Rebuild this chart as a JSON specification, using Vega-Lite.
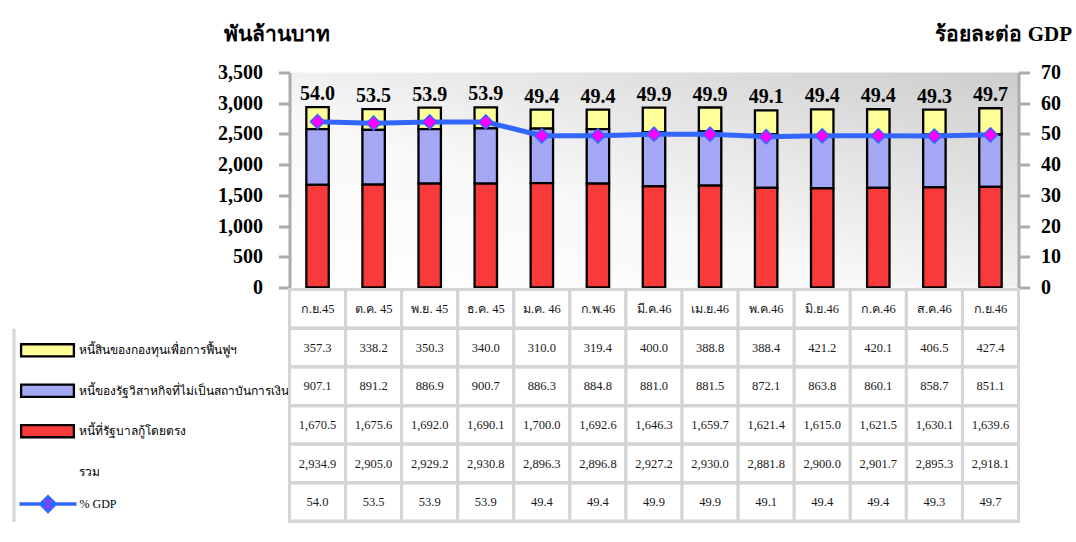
{
  "$schema": "https://vega.github.io/schema/vega-lite/v6.json",
  "background": "white",
  "padding": {"left": 13.5, "top": 23.5, "right": 0, "bottom": 0},
  "bounds": "flush",
  "spacing": 2,
  "config": {"view": {"stroke": null}, "font": "Liberation Serif"},
  "datasets": {
    "debt": [
      {"month": "ก.ย.45", "series": "หนี้สินของกองทุนเพื่อการฟื้นฟูฯ", "value": 357.3},
      {"month": "ก.ย.45", "series": "หนี้ของรัฐวิสาหกิจที่ไม่เป็นสถาบันการเงิน", "value": 907.1},
      {"month": "ก.ย.45", "series": "หนี้ที่รัฐบาลกู้โดยตรง", "value": 1670.5},
      {"month": "ต.ค. 45", "series": "หนี้สินของกองทุนเพื่อการฟื้นฟูฯ", "value": 338.2},
      {"month": "ต.ค. 45", "series": "หนี้ของรัฐวิสาหกิจที่ไม่เป็นสถาบันการเงิน", "value": 891.2},
      {"month": "ต.ค. 45", "series": "หนี้ที่รัฐบาลกู้โดยตรง", "value": 1675.6},
      {"month": "พ.ย. 45", "series": "หนี้สินของกองทุนเพื่อการฟื้นฟูฯ", "value": 350.3},
      {"month": "พ.ย. 45", "series": "หนี้ของรัฐวิสาหกิจที่ไม่เป็นสถาบันการเงิน", "value": 886.9},
      {"month": "พ.ย. 45", "series": "หนี้ที่รัฐบาลกู้โดยตรง", "value": 1692.0},
      {"month": "ธ.ค. 45", "series": "หนี้สินของกองทุนเพื่อการฟื้นฟูฯ", "value": 340.0},
      {"month": "ธ.ค. 45", "series": "หนี้ของรัฐวิสาหกิจที่ไม่เป็นสถาบันการเงิน", "value": 900.7},
      {"month": "ธ.ค. 45", "series": "หนี้ที่รัฐบาลกู้โดยตรง", "value": 1690.1},
      {"month": "ม.ค. 46", "series": "หนี้สินของกองทุนเพื่อการฟื้นฟูฯ", "value": 310.0},
      {"month": "ม.ค. 46", "series": "หนี้ของรัฐวิสาหกิจที่ไม่เป็นสถาบันการเงิน", "value": 886.3},
      {"month": "ม.ค. 46", "series": "หนี้ที่รัฐบาลกู้โดยตรง", "value": 1700.0},
      {"month": "ก.พ.46", "series": "หนี้สินของกองทุนเพื่อการฟื้นฟูฯ", "value": 319.4},
      {"month": "ก.พ.46", "series": "หนี้ของรัฐวิสาหกิจที่ไม่เป็นสถาบันการเงิน", "value": 884.8},
      {"month": "ก.พ.46", "series": "หนี้ที่รัฐบาลกู้โดยตรง", "value": 1692.6},
      {"month": "มี.ค.46", "series": "หนี้สินของกองทุนเพื่อการฟื้นฟูฯ", "value": 400.0},
      {"month": "มี.ค.46", "series": "หนี้ของรัฐวิสาหกิจที่ไม่เป็นสถาบันการเงิน", "value": 881.0},
      {"month": "มี.ค.46", "series": "หนี้ที่รัฐบาลกู้โดยตรง", "value": 1646.3},
      {"month": "เม.ย.46", "series": "หนี้สินของกองทุนเพื่อการฟื้นฟูฯ", "value": 388.8},
      {"month": "เม.ย.46", "series": "หนี้ของรัฐวิสาหกิจที่ไม่เป็นสถาบันการเงิน", "value": 881.5},
      {"month": "เม.ย.46", "series": "หนี้ที่รัฐบาลกู้โดยตรง", "value": 1659.7},
      {"month": "พ.ค.46", "series": "หนี้สินของกองทุนเพื่อการฟื้นฟูฯ", "value": 388.4},
      {"month": "พ.ค.46", "series": "หนี้ของรัฐวิสาหกิจที่ไม่เป็นสถาบันการเงิน", "value": 872.1},
      {"month": "พ.ค.46", "series": "หนี้ที่รัฐบาลกู้โดยตรง", "value": 1621.4},
      {"month": "มิ.ย.46", "series": "หนี้สินของกองทุนเพื่อการฟื้นฟูฯ", "value": 421.2},
      {"month": "มิ.ย.46", "series": "หนี้ของรัฐวิสาหกิจที่ไม่เป็นสถาบันการเงิน", "value": 863.8},
      {"month": "มิ.ย.46", "series": "หนี้ที่รัฐบาลกู้โดยตรง", "value": 1615.0},
      {"month": "ก.ค.46", "series": "หนี้สินของกองทุนเพื่อการฟื้นฟูฯ", "value": 420.1},
      {"month": "ก.ค.46", "series": "หนี้ของรัฐวิสาหกิจที่ไม่เป็นสถาบันการเงิน", "value": 860.1},
      {"month": "ก.ค.46", "series": "หนี้ที่รัฐบาลกู้โดยตรง", "value": 1621.5},
      {"month": "ส.ค.46", "series": "หนี้สินของกองทุนเพื่อการฟื้นฟูฯ", "value": 406.5},
      {"month": "ส.ค.46", "series": "หนี้ของรัฐวิสาหกิจที่ไม่เป็นสถาบันการเงิน", "value": 858.7},
      {"month": "ส.ค.46", "series": "หนี้ที่รัฐบาลกู้โดยตรง", "value": 1630.1},
      {"month": "ก.ย.46", "series": "หนี้สินของกองทุนเพื่อการฟื้นฟูฯ", "value": 427.4},
      {"month": "ก.ย.46", "series": "หนี้ของรัฐวิสาหกิจที่ไม่เป็นสถาบันการเงิน", "value": 851.1},
      {"month": "ก.ย.46", "series": "หนี้ที่รัฐบาลกู้โดยตรง", "value": 1639.6}
    ],
    "summary": [
      {"month": "ก.ย.45", "total": 2934.9, "gdp": 54.0},
      {"month": "ต.ค. 45", "total": 2905.0, "gdp": 53.5},
      {"month": "พ.ย. 45", "total": 2929.2, "gdp": 53.9},
      {"month": "ธ.ค. 45", "total": 2930.8, "gdp": 53.9},
      {"month": "ม.ค. 46", "total": 2896.3, "gdp": 49.4},
      {"month": "ก.พ.46", "total": 2896.8, "gdp": 49.4},
      {"month": "มี.ค.46", "total": 2927.2, "gdp": 49.9},
      {"month": "เม.ย.46", "total": 2930.0, "gdp": 49.9},
      {"month": "พ.ค.46", "total": 2881.8, "gdp": 49.1},
      {"month": "มิ.ย.46", "total": 2900.0, "gdp": 49.4},
      {"month": "ก.ค.46", "total": 2901.7, "gdp": 49.4},
      {"month": "ส.ค.46", "total": 2895.3, "gdp": 49.3},
      {"month": "ก.ย.46", "total": 2918.1, "gdp": 49.7}
    ]
  },
  "vconcat": [
    {
      "width": 1005,
      "height": 215,
      "layer": [
        {
          "layer": [
            {
              "data": {"values": [{"area": "plot"}]},
              "mark": {"type": "rect", "fill": {"gradient": "linear", "x1": 0, "y1": 1, "x2": 1, "y2": 0, "stops": [{"offset": 0, "color": "#ffffff"}, {"offset": 0.4, "color": "#f8f8f8"}, {"offset": 1, "color": "#cdcdcd"}]}},
              "encoding": {
                "x": {"datum": "ก.ย.45", "type": "nominal", "bandPosition": 0, "scale": {"type": "band", "domain": ["ก.ย.45","ต.ค. 45","พ.ย. 45","ธ.ค. 45","ม.ค. 46","ก.พ.46","มี.ค.46","เม.ย.46","พ.ค.46","มิ.ย.46","ก.ค.46","ส.ค.46","ก.ย.46"], "paddingInner": 0, "paddingOuter": 0, "range": [276, 1005]}, "axis": null},
                "x2": {"value": "width"},
                "y": {"datum": 3500, "type": "quantitative"},
                "y2": {"datum": 0}
              }
            },
            {
              "data": {"name": "debt"},
              "mark": {"type": "bar", "width": {"band": 0.4}, "strokeWidth": 2.3},
              "encoding": {
                "x": {"field": "month", "type": "nominal", "axis": null},
                "y": {
                  "field": "value", "type": "quantitative", "stack": "zero",
                  "scale": {"domain": [0, 3500], "nice": false},
                  "axis": {
                    "orient": "left", "offset": -276, "zindex": 1, "values": [0, 500, 1000, 1500, 2000, 2500, 3000, 3500], "tickCount": 8, "format": ",.0f", "labelOverlap": false,
                    "title": "พันล้านบาท", "titleAngle": 0, "titleAlign": "center", "titleBaseline": "middle", "titleX": -13.5, "titleY": -38,
                    "titleFontSize": 21, "titleFontWeight": "bold", "titleColor": "black",
                    "labelFontSize": 20, "labelFontWeight": "bold", "labelColor": "black", "labelPadding": 16,
                    "tickSize": 11, "tickWidth": 3, "tickColor": "#ababab", "domainColor": "#ababab", "domainWidth": 3, "grid": false
                  }
                },
                "order": {"field": "value", "sort": "descending"},
                "color": {
                  "field": "series", "type": "nominal",
                  "scale": {"domain": ["หนี้สินของกองทุนเพื่อการฟื้นฟูฯ", "หนี้ของรัฐวิสาหกิจที่ไม่เป็นสถาบันการเงิน", "หนี้ที่รัฐบาลกู้โดยตรง", "รวม"], "range": ["#ffff99", "#a3a7f4", "#f83a3a", "transparent"]},
                  "legend": {
                    "orient": "none", "legendX": 5, "legendY": 248.8, "direction": "vertical", "title": null,
                    "symbolSize": 3025, "symbolType": "M-0.96,-0.22H0.96V0.22H-0.96Z", "symbolOpacity": 1, "symbolStrokeWidth": 2.3,
                    "rowPadding": 0.45, "labelFontSize": 12, "labelColor": "black", "labelLimit": 0, "labelOffset": 2
                  }
                },
                "stroke": {
                  "field": "series", "type": "nominal",
                  "scale": {"domain": ["หนี้สินของกองทุนเพื่อการฟื้นฟูฯ", "หนี้ของรัฐวิสาหกิจที่ไม่เป็นสถาบันการเงิน", "หนี้ที่รัฐบาลกู้โดยตรง", "รวม"], "range": ["black", "black", "black", "transparent"]},
                  "legend": {
                    "orient": "none", "legendX": 5, "legendY": 248.8, "direction": "vertical", "title": null,
                    "symbolSize": 3025, "symbolType": "M-0.96,-0.22H0.96V0.22H-0.96Z", "symbolOpacity": 1, "symbolStrokeWidth": 2.3,
                    "rowPadding": 0.45, "labelFontSize": 12, "labelColor": "black", "labelLimit": 0, "labelOffset": 2
                  }
                }
              }
            },
            {
              "data": {"name": "summary"},
              "mark": {"type": "text", "fontSize": 20, "fontWeight": "bold", "baseline": "alphabetic", "dy": -7, "color": "black"},
              "encoding": {
                "x": {"field": "month", "type": "nominal", "axis": null},
                "y": {"field": "total", "type": "quantitative"},
                "text": {"field": "gdp", "type": "quantitative", "format": ".1f"}
              }
            }
          ]
        },
        {
          "layer": [
            {
              "data": {"name": "summary"},
              "mark": {"type": "line", "strokeWidth": 5},
              "encoding": {
                "x": {"field": "month", "type": "nominal", "axis": null},
                "y": {
                  "field": "gdp", "type": "quantitative",
                  "scale": {"domain": [0, 70], "nice": false},
                  "axis": {
                    "orient": "right", "zindex": 1, "values": [0, 10, 20, 30, 40, 50, 60, 70], "tickCount": 8, "format": ".0f", "labelOverlap": false,
                    "title": "ร้อยละต่อ GDP", "titleAngle": 0, "titleAlign": "right", "titleBaseline": "middle", "titleX": 53, "titleY": -38,
                    "titleFontSize": 21, "titleFontWeight": "bold", "titleColor": "black",
                    "labelFontSize": 20, "labelFontWeight": "bold", "labelColor": "black", "labelPadding": 11,
                    "tickSize": 11, "tickWidth": 3, "tickColor": "#ababab", "domainColor": "#ababab", "domainWidth": 3, "grid": false
                  }
                },
                "stroke": {
                  "datum": "% GDP", "type": "nominal",
                  "scale": {"domain": ["% GDP"], "range": ["#3366ff"]},
                  "legend": {
                    "orient": "none", "legendX": 4, "legendY": 401.1, "direction": "vertical", "title": null,
                    "symbolSize": 3249, "symbolType": "M-1,0H1M0,-0.25L0.25,0L0,0.25L-0.25,0Z", "symbolOpacity": 1, "symbolStrokeWidth": 3.5, "symbolFillColor": "#ff00ff",
                    "labelFontSize": 12, "labelColor": "black", "labelLimit": 0, "labelOffset": 1
                  }
                }
              }
            },
            {
              "data": {"name": "summary"},
              "mark": {"type": "point", "shape": "diamond", "filled": true, "fill": "#ff00ff", "stroke": "#3366ff", "strokeWidth": 1.5, "size": 200, "opacity": 1},
              "encoding": {
                "x": {"field": "month", "type": "nominal", "axis": null},
                "y": {"field": "gdp", "type": "quantitative"}
              }
            }
          ]
        }
      ],
      "resolve": {"scale": {"y": "independent", "stroke": "independent", "color": "independent"}}
    },
    {
      "width": 1005,
      "height": 232,
      "layer": [
        {
          "data": {"name": "debt"},
          "mark": {"type": "rect", "fill": "white", "stroke": "#d4d4d4", "strokeWidth": 3},
          "encoding": {
            "x": {"field": "month", "type": "nominal", "scale": {"type": "band", "domain": ["ก.ย.45","ต.ค. 45","พ.ย. 45","ธ.ค. 45","ม.ค. 46","ก.พ.46","มี.ค.46","เม.ย.46","พ.ค.46","มิ.ย.46","ก.ค.46","ส.ค.46","ก.ย.46"], "paddingInner": 0, "paddingOuter": 0, "range": [276, 1005]}, "axis": null},
            "y": {
              "field": "series", "type": "nominal",
              "scale": {"type": "band", "domain": ["เดือน", "หนี้สินของกองทุนเพื่อการฟื้นฟูฯ", "หนี้ของรัฐวิสาหกิจที่ไม่เป็นสถาบันการเงิน", "หนี้ที่รัฐบาลกู้โดยตรง", "รวม", "% GDP"], "paddingInner": 0, "paddingOuter": 0},
              "axis": {"orient": "left", "labels": false, "ticks": false, "title": null, "grid": true, "bandPosition": 1, "gridColor": "#d4d4d4", "gridWidth": 3, "domain": true, "domainColor": "#d4d4d4", "domainWidth": 3, "domainDash": [0, 38.67, 300]}
            }
          }
        },
        {
          "data": {"name": "summary"},
          "mark": {"type": "rect", "fill": "white", "stroke": "#d4d4d4", "strokeWidth": 3},
          "encoding": {"x": {"field": "month", "type": "nominal", "axis": null}, "y": {"datum": "เดือน", "type": "nominal"}}
        },
        {
          "data": {"name": "summary"},
          "mark": {"type": "rect", "fill": "white", "stroke": "#d4d4d4", "strokeWidth": 3},
          "encoding": {"x": {"field": "month", "type": "nominal", "axis": null}, "y": {"datum": "รวม", "type": "nominal"}}
        },
        {
          "data": {"name": "summary"},
          "mark": {"type": "rect", "fill": "white", "stroke": "#d4d4d4", "strokeWidth": 3},
          "encoding": {"x": {"field": "month", "type": "nominal", "axis": null}, "y": {"datum": "% GDP", "type": "nominal"}}
        },
        {
          "data": {"name": "debt"},
          "mark": {"type": "text", "fontSize": 12.5, "color": "#1a1a1a", "baseline": "middle"},
          "encoding": {"x": {"field": "month", "type": "nominal", "axis": null}, "y": {"field": "series", "type": "nominal"}, "text": {"field": "value", "type": "quantitative", "format": ",.1f"}}
        },
        {
          "data": {"name": "summary"},
          "mark": {"type": "text", "fontSize": 12.5, "color": "#1a1a1a", "baseline": "middle"},
          "encoding": {"x": {"field": "month", "type": "nominal", "axis": null}, "y": {"datum": "เดือน", "type": "nominal"}, "text": {"field": "month", "type": "nominal"}}
        },
        {
          "data": {"name": "summary"},
          "mark": {"type": "text", "fontSize": 12.5, "color": "#1a1a1a", "baseline": "middle"},
          "encoding": {"x": {"field": "month", "type": "nominal", "axis": null}, "y": {"datum": "รวม", "type": "nominal"}, "text": {"field": "total", "type": "quantitative", "format": ",.1f"}}
        },
        {
          "data": {"name": "summary"},
          "mark": {"type": "text", "fontSize": 12.5, "color": "#1a1a1a", "baseline": "middle"},
          "encoding": {"x": {"field": "month", "type": "nominal", "axis": null}, "y": {"datum": "% GDP", "type": "nominal"}, "text": {"field": "gdp", "type": "quantitative", "format": ".1f"}}
        }
      ]
    }
  ]
}
